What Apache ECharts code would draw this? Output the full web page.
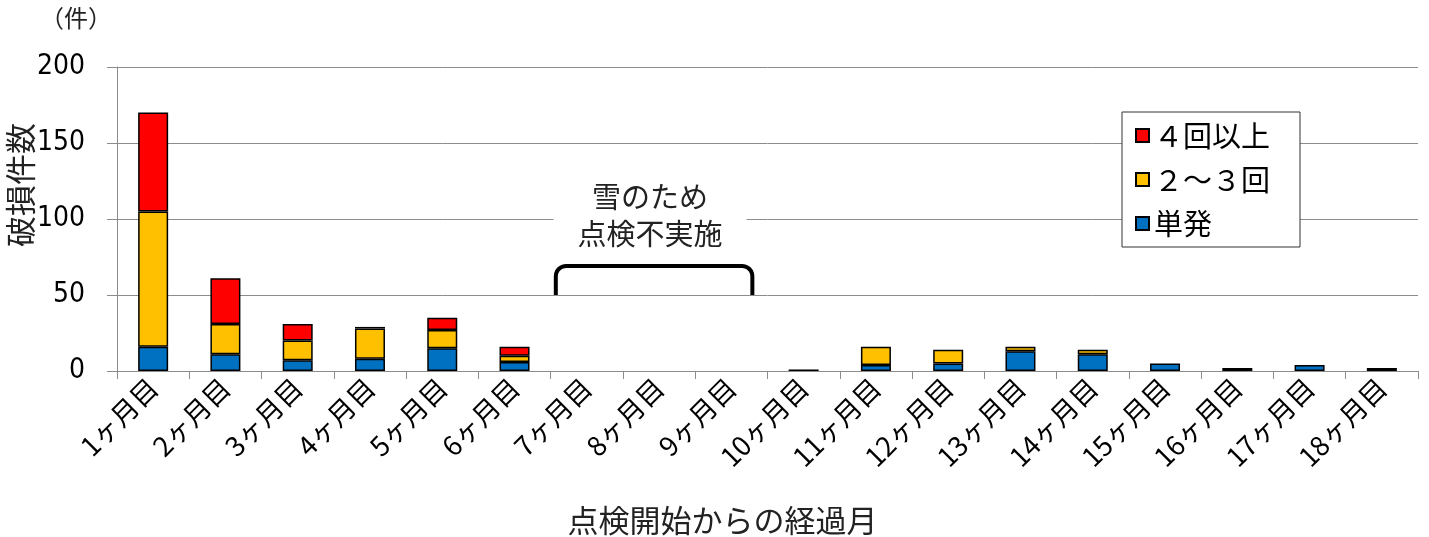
<!DOCTYPE html>
<html>
<head>
<meta charset="utf-8">
<script src="https://cdn.jsdelivr.net/npm/echarts@6/dist/echarts.min.js"></script>
<style>
  html, body { margin: 0; padding: 0; background: #fff; }
  #chart { width: 1429px; height: 537px; }
</style>
</head>
<body>
<div id="chart"></div>
<script>
// categories (months since inspection start)
const months = [
  '1ヶ月目', '2ヶ月目', '3ヶ月目', '4ヶ月目', '5ヶ月目', '6ヶ月目',
  '7ヶ月目', '8ヶ月目', '9ヶ月目', '10ヶ月目', '11ヶ月目', '12ヶ月目',
  '13ヶ月目', '14ヶ月目', '15ヶ月目', '16ヶ月目', '17ヶ月目', '18ヶ月目'
];
const seriesNames = ['４回以上', '２～３回', '単発'];
// damage counts
const single = [16, 11, 7, 8, 15, 6, 0, 0, 0, 1, 4, 5, 13, 11, 5, 2, 4, 2];
const twoThree = [89, 20, 13, 20, 12, 4, 0, 0, 0, 0, 12, 9, 3, 3, 0, 0, 0, 0];
const fourPlus = [65, 30, 11, 1, 8, 6, 0, 0, 0, 0, 0, 0, 0, 0, 0, 0, 0, 0];
const yTicks = [0, 50, 100, 150, 200];
// "no inspection because of snow" bracket
const noteFrom = '7ヶ月目';
const noteTo = '9ヶ月目';
const noteRange = [50, 69];
const noteText = '雪のため\n点検不実施';

const chartDom = document.getElementById('chart');
const myChart = echarts.init(chartDom);

const gray = '#8c8c8c';
const jp = '"Noto Sans CJK JP", "Noto Sans", sans-serif';

function barSeries(name, data, color) {
  return {
    name: name,
    type: 'bar',
    stack: 'total',
    // empty segments are not drawn at all (no border sliver)
    data: data.map(v => (v === 0 ? null : v)),
    barWidth: 30,
    itemStyle: { color: color, borderColor: '#000', borderWidth: 1.5 }
  };
}

// bracket + note, positioned through the axes
function renderNote(params, api) {
  const pTop = api.coord([api.value(0), api.value(3)]);
  const pBot = api.coord([api.value(1), api.value(2)]);
  const x0 = pTop[0] - 31;
  const x1 = pBot[0] + 21;
  const yTop = pTop[1];
  const yBot = pBot[1];
  const r = 10;
  const pts = [[x0, yBot]];
  for (let i = 0; i <= 6; i++) {
    const a = Math.PI - (Math.PI / 2) * (i / 6);
    pts.push([x0 + r + r * Math.cos(a), yTop + r - r * Math.sin(a)]);
  }
  for (let i = 0; i <= 6; i++) {
    const a = Math.PI / 2 - (Math.PI / 2) * (i / 6);
    pts.push([x1 - r + r * Math.cos(a), yTop + r - r * Math.sin(a)]);
  }
  pts.push([x1, yBot]);
  const cx = (x0 + x1) / 2 - 4;
  return {
    type: 'group',
    children: [
      {
        type: 'polyline',
        shape: { points: pts },
        style: { fill: null, stroke: '#000', lineWidth: 4 }
      },
      {
        type: 'text',
        x: cx,
        y: yTop - 51,
        style: {
          text: noteText,
          font: '29px ' + jp,
          fill: '#222',
          align: 'center',
          verticalAlign: 'middle',
          lineHeight: 37,
          backgroundColor: '#fff',
          padding: [4, 24, 4, 24]
        }
      }
    ]
  };
}

const option = {
  animation: false,
  backgroundColor: '#fff',
  grid: { left: 117, right: 11, top: 67, bottom: 166, outerBoundsMode: 'none', containLabel: false },
  legend: {
    data: seriesNames,
    orient: 'vertical',
    left: 1122,
    top: 112,
    padding: [9, 30, 9, 13],
    itemGap: 15,
    itemWidth: 13,
    itemHeight: 13,
    icon: 'rect',
    borderColor: '#333',
    borderWidth: 1,
    backgroundColor: '#fff',
    textStyle: { fontSize: 29, color: '#000', fontFamily: jp }
  },
  xAxis: {
    type: 'category',
    data: months,
    name: '点検開始からの経過月',
    nameLocation: 'middle',
    nameGap: 134,
    nameMoveOverlap: false,
    nameTextStyle: { fontSize: 31, color: '#222', fontFamily: jp, padding: [0, 90, 0, 0] },
    axisLine: { lineStyle: { color: gray, width: 1 } },
    axisTick: { show: true, length: 8, lineStyle: { color: gray } },
    axisLabel: {
      rotate: 45,
      interval: 0,
      margin: 12,
      fontSize: 27,
      color: '#000',
      fontFamily: jp
    }
  },
  yAxis: {
    type: 'value',
    min: 0,
    max: 200,
    interval: 50,
    name: '破損件数',
    nameLocation: 'middle',
    nameRotate: 90,
    nameGap: 81,
    nameMoveOverlap: false,
    nameTextStyle: { fontSize: 31, color: '#222', fontFamily: jp, padding: [0, 0, 0, 68] },
    axisLine: { show: true, lineStyle: { color: gray, width: 1 } },
    axisTick: { show: true, length: 10, lineStyle: { color: gray } },
    splitLine: { lineStyle: { color: gray, width: 1 } },
    axisLabel: {
      margin: 32,
      fontSize: 28,
      color: '#000',
      fontFamily: '"Liberation Sans Narrow", "DejaVu Sans Condensed", sans-serif',
      formatter: function (v) { return yTicks.indexOf(v) >= 0 ? String(v) : ''; }
    }
  },
  graphic: [
    {
      type: 'text',
      left: 40,
      top: 6,
      style: { text: '（件）', font: '24px ' + jp, fill: '#222' }
    }
  ],
  series: [
    barSeries('単発', single, '#0070c0'),
    barSeries('２～３回', twoThree, '#ffc000'),
    barSeries('４回以上', fourPlus, '#ff0000'),
    {
      type: 'custom',
      name: 'note',
      renderItem: renderNote,
      silent: true,
      z: 5,
      data: [[months.indexOf(noteFrom), months.indexOf(noteTo), noteRange[0], noteRange[1]]]
    }
  ]
};

myChart.setOption(option);
</script>
</body>
</html>
